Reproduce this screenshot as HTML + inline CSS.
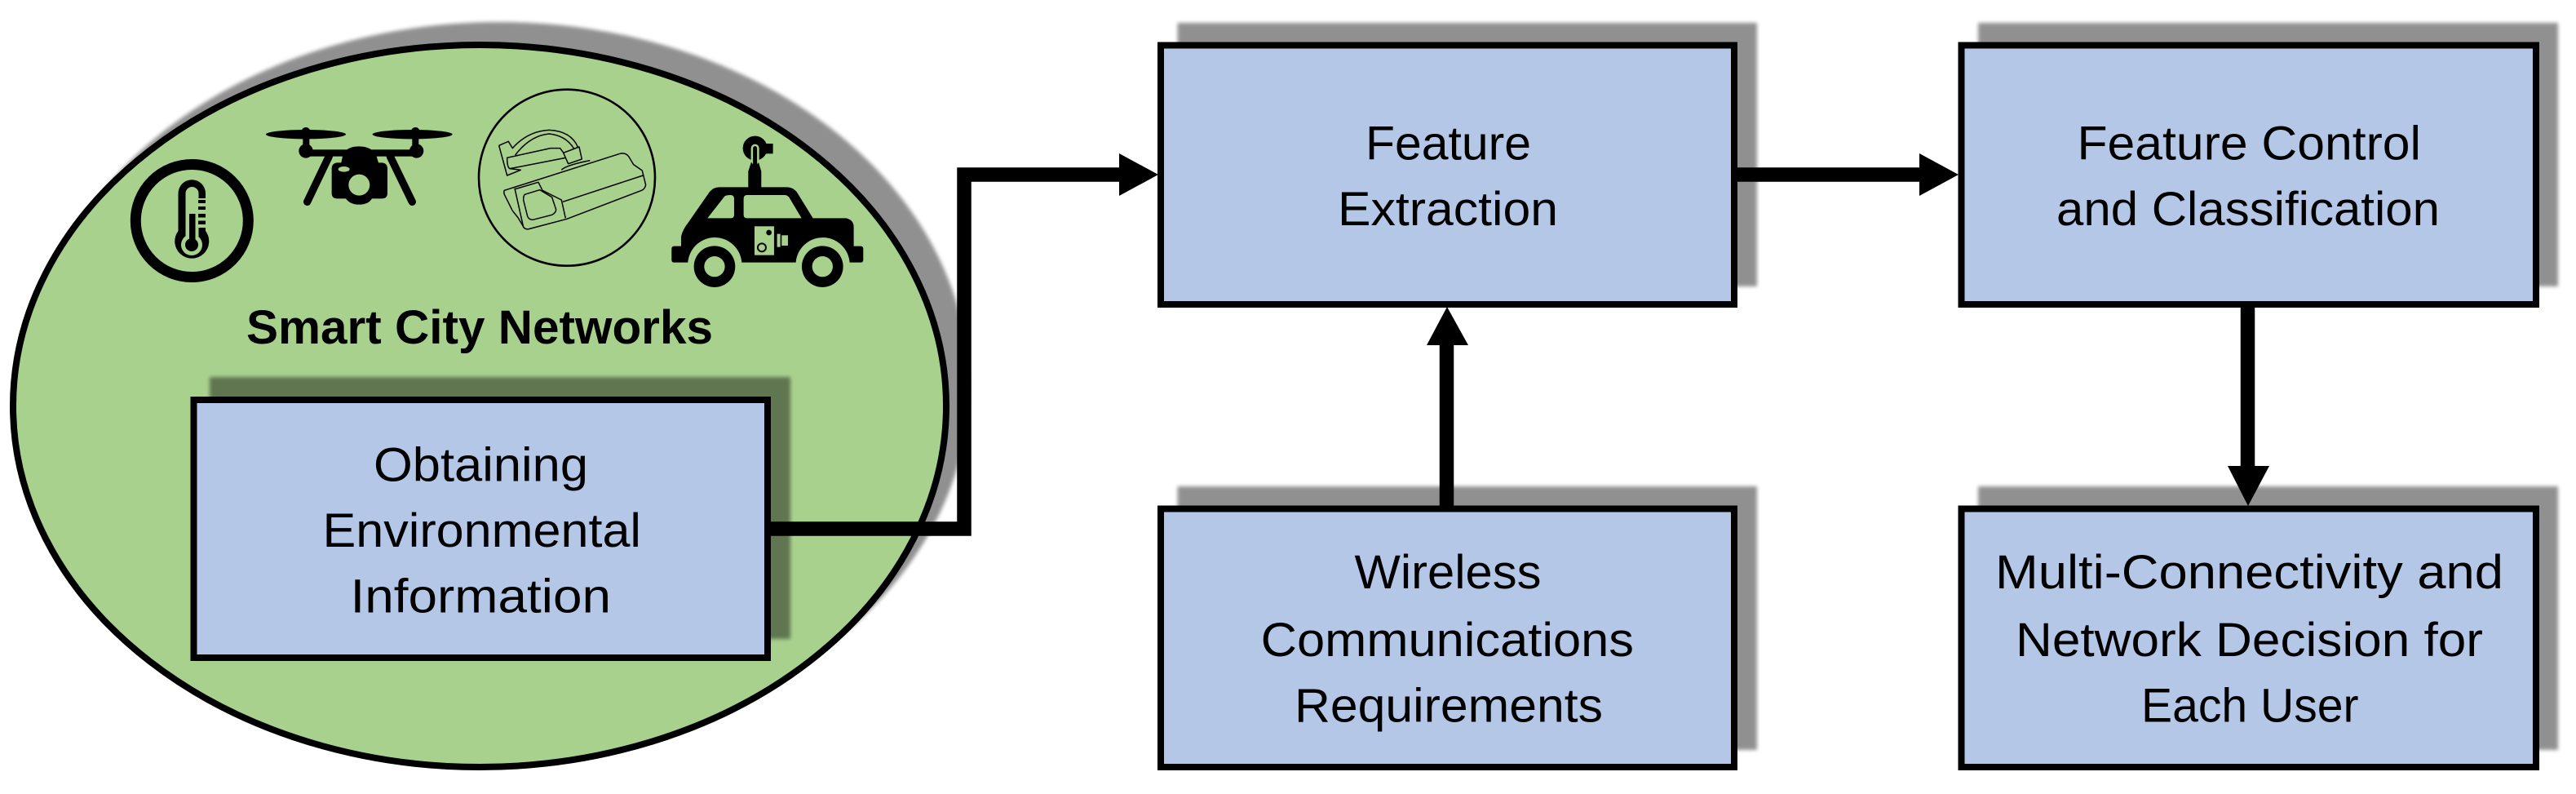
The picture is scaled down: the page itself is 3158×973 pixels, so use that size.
<!DOCTYPE html>
<html>
<head>
<meta charset="utf-8">
<style>
html,body{margin:0;padding:0;background:#fff;width:3158px;height:973px;overflow:hidden}
svg{display:block}
text{font-family:"Liberation Sans",Arial,sans-serif;font-size:58px;fill:#000}
</style>
</head>
<body>
<svg width="3158" height="973" viewBox="0 0 3158 973" xmlns="http://www.w3.org/2000/svg">
<defs>
<filter id="b" x="-10%" y="-10%" width="120%" height="120%"><feGaussianBlur stdDeviation="2.5"/></filter>
</defs>
<rect width="3158" height="973" fill="#fff"/>

<!-- ellipse -->
<ellipse cx="612" cy="473.5" rx="576" ry="446.5" fill="#000" opacity=".43" filter="url(#b)"/>
<ellipse cx="588" cy="497.5" rx="572" ry="442.5" fill="#a9d18e" stroke="#000" stroke-width="8"/>

<!-- thermometer -->
<circle cx="235.3" cy="270.5" r="69" fill="none" stroke="#000" stroke-width="13"/>
<path d="M218.5 237a16.7 16.7 0 0 1 33.5 0V283a21 21 0 1 1-33.5 0Z" fill="#000"/>
<path d="M227.5 237a8 8 0 0 1 16 0V290H227.5Z" fill="#a9d18e"/>
<circle cx="235" cy="300" r="13" fill="#a9d18e"/>
<circle cx="235" cy="300" r="8" fill="#000"/>
<rect x="232" y="262" width="7.5" height="36" fill="#000"/>
<rect x="243" y="243" width="10" height="36" fill="#a9d18e"/>
<rect x="243" y="245" width="9" height="4" fill="#000"/>
<rect x="243" y="253" width="9" height="4" fill="#000"/>
<rect x="243" y="262" width="9" height="4.5" fill="#000"/>
<rect x="243" y="270.5" width="9" height="4.5" fill="#000"/>

<!-- drone -->
<g transform="translate(140 130) scale(.3333)" fill="#000">
<ellipse cx="705" cy="104" rx="147" ry="17"/>
<ellipse cx="1097" cy="104" rx="147" ry="17"/>
<circle cx="705" cy="94" r="16"/><circle cx="1108" cy="94" r="16"/>
<rect x="694" y="100" width="24" height="50"/><rect x="1096" y="100" width="24" height="50"/>
<circle cx="705" cy="165" r="26"/><circle cx="1112" cy="165" r="26"/>
<rect x="705" y="160" width="405" height="25"/>
<path d="M840 185Q850 148 900 148Q950 148 965 185L972 208H985Q1005 210 1005 230V320Q1005 340 985 340H948Q935 362 900 362Q868 362 852 340H820Q800 340 800 320V230Q800 210 820 208H835Z"/>
<ellipse cx="845" cy="232" rx="21" ry="10" fill="#a9d18e"/>
<circle cx="901" cy="290" r="39" fill="#a9d18e"/>
<path d="M790 185L710 352M1015 185L1096 352" stroke="#000" stroke-width="28" stroke-linecap="round" fill="none"/>
</g>

<!-- cctv -->
<circle cx="695" cy="217.7" r="108" fill="none" stroke="#000" stroke-width="2.6"/>
<g transform="translate(560 130) scale(.3333)" fill="none" stroke="#000" stroke-width="4.5" stroke-linejoin="round">
<path d="M175 310L600 175Q620 170 632 185L650 215L682 237L695 290Q692 305 680 310L405 415L265 452Q248 455 243 440L225 410L205 385L175 325Q172 315 175 310Z"/>
<path d="M390 352L685 255"/>
<path d="M213 302L245 445M215 305L300 280L315 310L385 345L400 412"/>
<path d="M250 325L305 308L350 335L365 380Q365 392 350 400L280 418Q265 418 260 405L245 345Q245 330 250 325Z"/>
<path d="M155 145L190 130L205 155Q260 92 340 88Q420 92 445 150"/>
<path d="M215 180Q270 108 340 102Q400 108 430 155"/>
<path d="M155 145L185 255L235 235L195 230Q185 225 185 190L345 155H380L395 175"/>
<path d="M195 230L400 190"/>
<path d="M392 172L450 150L460 195L410 212Z"/>
<path d="M385 235Q400 218 490 200"/>
</g>

<!-- car -->
<g transform="translate(560 130) scale(.3333)">
<path d="M1072 300V240L1085 200H1108L1120 240V300Z" fill="#000"/>
<circle cx="1097" cy="155" r="45" fill="#000"/>
<rect x="1125" y="138" width="38" height="37" fill="#000"/>
<path d="M1097 200V155" stroke="#a9d18e" stroke-width="30" stroke-linecap="round" fill="none"/>
<path d="M1097 215V155" stroke="#000" stroke-width="15" stroke-linecap="round" fill="none"/>
<path d="M825 515V480Q830 455 850 430L930 315Q945 298 965 298H1215Q1235 298 1250 315L1310 412H1432Q1460 418 1460 445V515H1485Q1495 515 1495 525V565Q1495 575 1485 575H800Q790 575 790 565V525Q790 515 800 515Z" fill="#000"/>
<path d="M922 412L985 332Q990 327 1008 327Q1020 328 1020 340V400Q1020 412 1008 412Z" fill="#a9d18e"/>
<path d="M1055 340Q1055 327 1068 327H1205Q1215 327 1222 335L1268 412H1068Q1055 412 1055 400Z" fill="#a9d18e"/>
<rect x="1095" y="442" width="72" height="106" fill="#a9d18e"/>
<circle cx="1148" cy="465" r="10" fill="#000"/>
<circle cx="1122" cy="520" r="15" fill="none" stroke="#000" stroke-width="6"/>
<rect x="1178" y="470" width="12" height="48" fill="#a9d18e"/>
<path d="M1195 475H1218V513H1195Z" fill="#a9d18e"/>
<path d="M850 575A99 99 0 0 1 1048 590V700H850Z" fill="#a9d18e"/>
<path d="M1247 575A99 99 0 0 1 1445 590V700H1247Z" fill="#a9d18e"/>
<circle cx="948" cy="590" r="76" fill="#000"/>
<circle cx="948" cy="590" r="38" fill="#a9d18e"/>
<circle cx="1345" cy="590" r="76" fill="#000"/>
<circle cx="1345" cy="590" r="38" fill="#a9d18e"/>
</g>

<text x="302" y="421" font-weight="700" style="font-weight:700" textLength="572" lengthAdjust="spacingAndGlyphs">Smart City Networks</text>

<!-- shadows -->
<rect x="257" y="462" width="712" height="321" fill="#000" opacity=".43" filter="url(#b)"/>
<rect x="1443.5" y="28" width="710.5" height="323" fill="#000" opacity=".43" filter="url(#b)"/>
<rect x="1443.5" y="596" width="710.5" height="323" fill="#000" opacity=".43" filter="url(#b)"/>
<rect x="2425" y="28" width="711" height="323" fill="#000" opacity=".43" filter="url(#b)"/>
<rect x="2425" y="596" width="711" height="323" fill="#000" opacity=".43" filter="url(#b)"/>

<!-- boxes -->
<g fill="#b4c7e7" stroke="#000" stroke-width="8">
<rect x="237.5" y="490" width="703.5" height="316"/>
<rect x="1423" y="55.5" width="703" height="317.5"/>
<rect x="1423" y="623.5" width="703" height="316.5"/>
<rect x="2404.5" y="55.5" width="704.5" height="317.5"/>
<rect x="2404.5" y="623.5" width="704.5" height="316.5"/>
</g>

<!-- connectors -->
<g fill="none" stroke="#000" stroke-width="17.5" stroke-linejoin="miter">
<path d="M945 648H1182V214H1375"/>
<path d="M2130 214H2356"/>
<path d="M1773.5 620V420"/>
<path d="M2755.5 377V574"/>
</g>
<g fill="#000">
<path d="M1372 188L1420 214L1372 240Z"/>
<path d="M2353 188L2401 214L2353 240Z"/>
<path d="M1749 423L1774 376L1800 423Z"/>
<path d="M2731 571L2756 620L2782 571Z"/>
</g>

<!-- labels -->
<text x="458" y="589.5" textLength="263" lengthAdjust="spacingAndGlyphs">Obtaining</text>
<text x="395.5" y="670" textLength="390.5" lengthAdjust="spacingAndGlyphs">Environmental</text>
<text x="429.5" y="750.5" textLength="319.5" lengthAdjust="spacingAndGlyphs">Information</text>

<text x="1674" y="195.5" textLength="203" lengthAdjust="spacingAndGlyphs">Feature</text>
<text x="1640" y="276" textLength="270" lengthAdjust="spacingAndGlyphs">Extraction</text>

<text x="1660.5" y="721" textLength="229" lengthAdjust="spacingAndGlyphs">Wireless</text>
<text x="1545.7" y="804" textLength="457.3" lengthAdjust="spacingAndGlyphs">Communications</text>
<text x="1587" y="884.5" textLength="378" lengthAdjust="spacingAndGlyphs">Requirements</text>

<text x="2546.5" y="195.5" textLength="421.5" lengthAdjust="spacingAndGlyphs">Feature Control</text>
<text x="2521" y="276" textLength="470" lengthAdjust="spacingAndGlyphs">and Classification</text>

<text x="2446" y="721" textLength="623" lengthAdjust="spacingAndGlyphs">Multi-Connectivity and</text>
<text x="2471" y="804" textLength="573" lengthAdjust="spacingAndGlyphs">Network Decision for</text>
<text x="2625" y="884.5" textLength="266.5" lengthAdjust="spacingAndGlyphs">Each User</text>
</svg>
</body>
</html>
